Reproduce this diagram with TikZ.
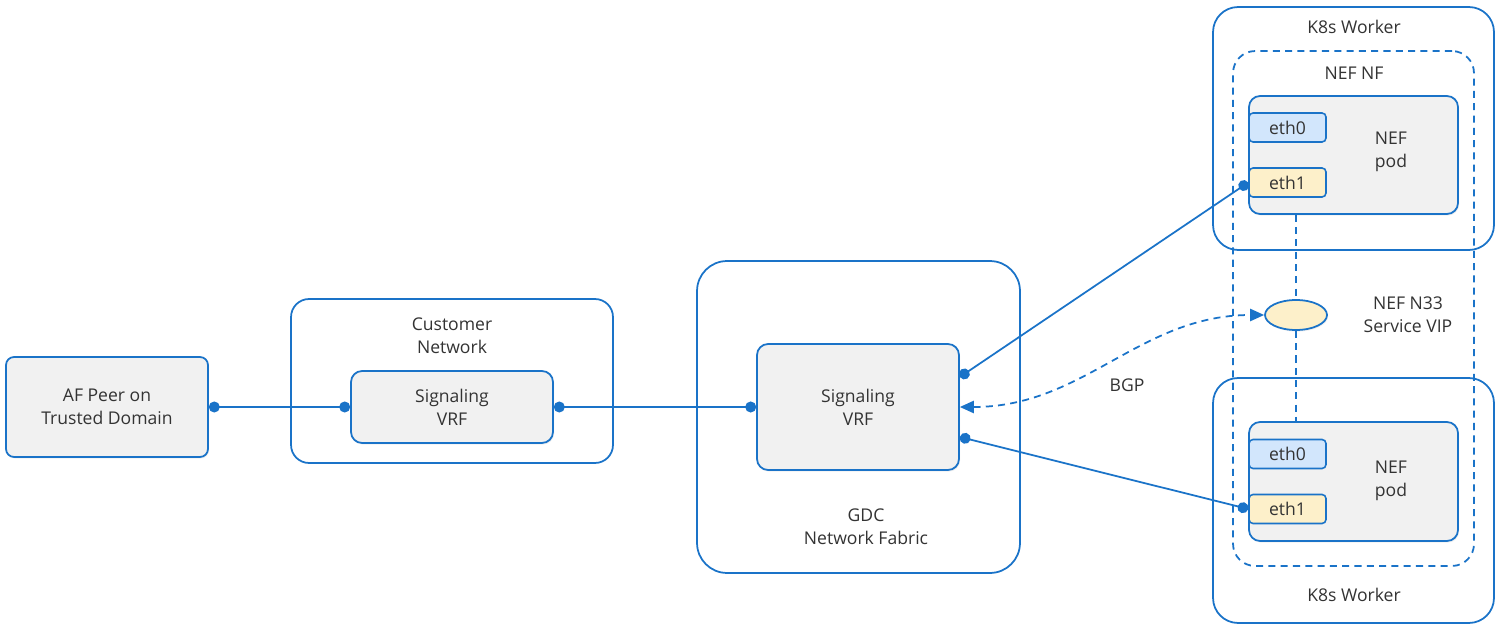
\documentclass[tikz,border=0pt]{standalone}
\usepackage{fontspec}
\setmainfont{Open Sans}
\usepackage{xcolor}
\usepackage{tikz}
\usetikzlibrary{arrows.meta, shapes.geometric, shadows}

\definecolor{gdcblue}{HTML}{1A73C8}
\definecolor{boxgrey}{HTML}{F1F1F1}
\definecolor{ethblue}{HTML}{D2E6FC}
\definecolor{ethyellow}{HTML}{FDF0CA}
\definecolor{txtgrey}{HTML}{333333}

\begin{document}
\begin{tikzpicture}[x=0.02cm, y=-0.02cm,
    every node/.style={font=\fontsize{10}{13.2}\selectfont, text=txtgrey, align=center},
    frame/.style={draw=gdcblue, line width=1pt, fill=white},
    grey box/.style={draw=gdcblue, line width=1pt, fill=boxgrey,
      rounded corners=0.22cm, drop shadow={opacity=0.12, shadow xshift=0.6pt, shadow yshift=-0.9pt}},
    port/.style={draw=gdcblue, line width=0.9pt, rounded corners=0.08cm,
      minimum width=1.54cm, minimum height=0.58cm, inner sep=0pt},
    link/.style={draw=gdcblue, line width=1pt, {Circle[length=6.2pt]}-{Circle[length=6.2pt]}},
    vlink/.style={draw=gdcblue, line width=1pt, dash pattern=on 4pt off 3pt}]
  \useasboundingbox (0,0) rectangle (1500,631);

  % containers
  \node[frame, rounded corners=0.36cm, minimum width=6.44cm, minimum height=3.28cm] (custnet) at (452,381) {};
  \node[frame, rounded corners=0.6cm, minimum width=6.46cm, minimum height=6.24cm] (gdc) at (858.5,417) {};
  \node[frame, rounded corners=0.5cm, minimum width=5.62cm, minimum height=4.86cm] (workera) at (1353.5,128.5) {};
  \node[frame, rounded corners=0.5cm, minimum width=5.62cm, minimum height=4.9cm] (workerb) at (1353.5,500.5) {};
  \node[draw=gdcblue, line width=1pt, dash pattern=on 4pt off 3pt, rounded corners=0.44cm,
        minimum width=4.82cm, minimum height=10.3cm] (nefnf) at (1353.5,308.5) {};

  % labels of containers
  \node (custlbl) at (452,336) {Customer\\Network};
  \node (gdclbl) at (866,527) {GDC\\Network Fabric};
  \node (workeralbl) at (1354,27) {K8s Worker};
  \node (workerblbl) at (1354,595) {K8s Worker};
  \node (nefnflbl) at (1354,73) {NEF NF};

  % boxes
  \node[grey box, rounded corners=0.16cm, minimum width=4.04cm, minimum height=2cm] (afpeer) at (107,407) {AF Peer on\\Trusted Domain};
  \node[grey box, minimum width=4.04cm, minimum height=1.44cm] (vrfa) at (452,407) {Signaling\\VRF};
  \node[grey box, minimum width=4.04cm, minimum height=2.52cm] (vrfb) at (858,407) {Signaling\\VRF};

  % pods
  \node[grey box, minimum width=4.18cm, minimum height=2.36cm] (poda) at (1353.5,155) {};
  \node (podalbl) at (1391,152) {NEF\\pod};
  \node[port, fill=ethblue] (etha0) at (1287.5,127.5) {eth0};
  \node[port, fill=ethyellow] (etha1) at (1287.5,182.5) {eth1};
  \node[grey box, minimum width=4.18cm, minimum height=2.38cm] (podb) at (1353.5,481.5) {};
  \node (podblbl) at (1391,481) {NEF\\pod};
  \node[port, fill=ethblue] (ethb0) at (1287.5,454) {eth0};
  \node[port, fill=ethyellow] (ethb1) at (1287.5,509) {eth1};

  % service vip
  \node[ellipse, draw=gdcblue, line width=1pt, fill=ethyellow, minimum width=1.24cm,
        minimum height=0.6cm, drop shadow={opacity=0.12, shadow xshift=0.6pt, shadow yshift=-0.9pt}] (vip) at (1296,315) {};
  \node (viplbl) at (1408,315) {NEF N33\\Service VIP};

  % links
  \draw[link] (afpeer) -- (vrfa);
  \draw[link] (vrfa) -- (vrfb);
  \draw[link] ([yshift=0.6cm]vrfb.east) -- (etha1.west);
  \draw[link] ([yshift=-0.6cm]vrfb.east) -- (ethb1.west);
  \draw[vlink] (poda.south -| vip) -- (vip.north);
  \draw[vlink] (vip.south) -- (podb.north -| vip);
  \draw[vlink, {Triangle[length=8pt, width=7pt]}-{Triangle[length=8pt, width=7pt]}]
    (vrfb.east) to[out=0, in=180] (vip.west);
  \node (bgp) at (1127,385) {BGP};
\end{tikzpicture}
\end{document}
